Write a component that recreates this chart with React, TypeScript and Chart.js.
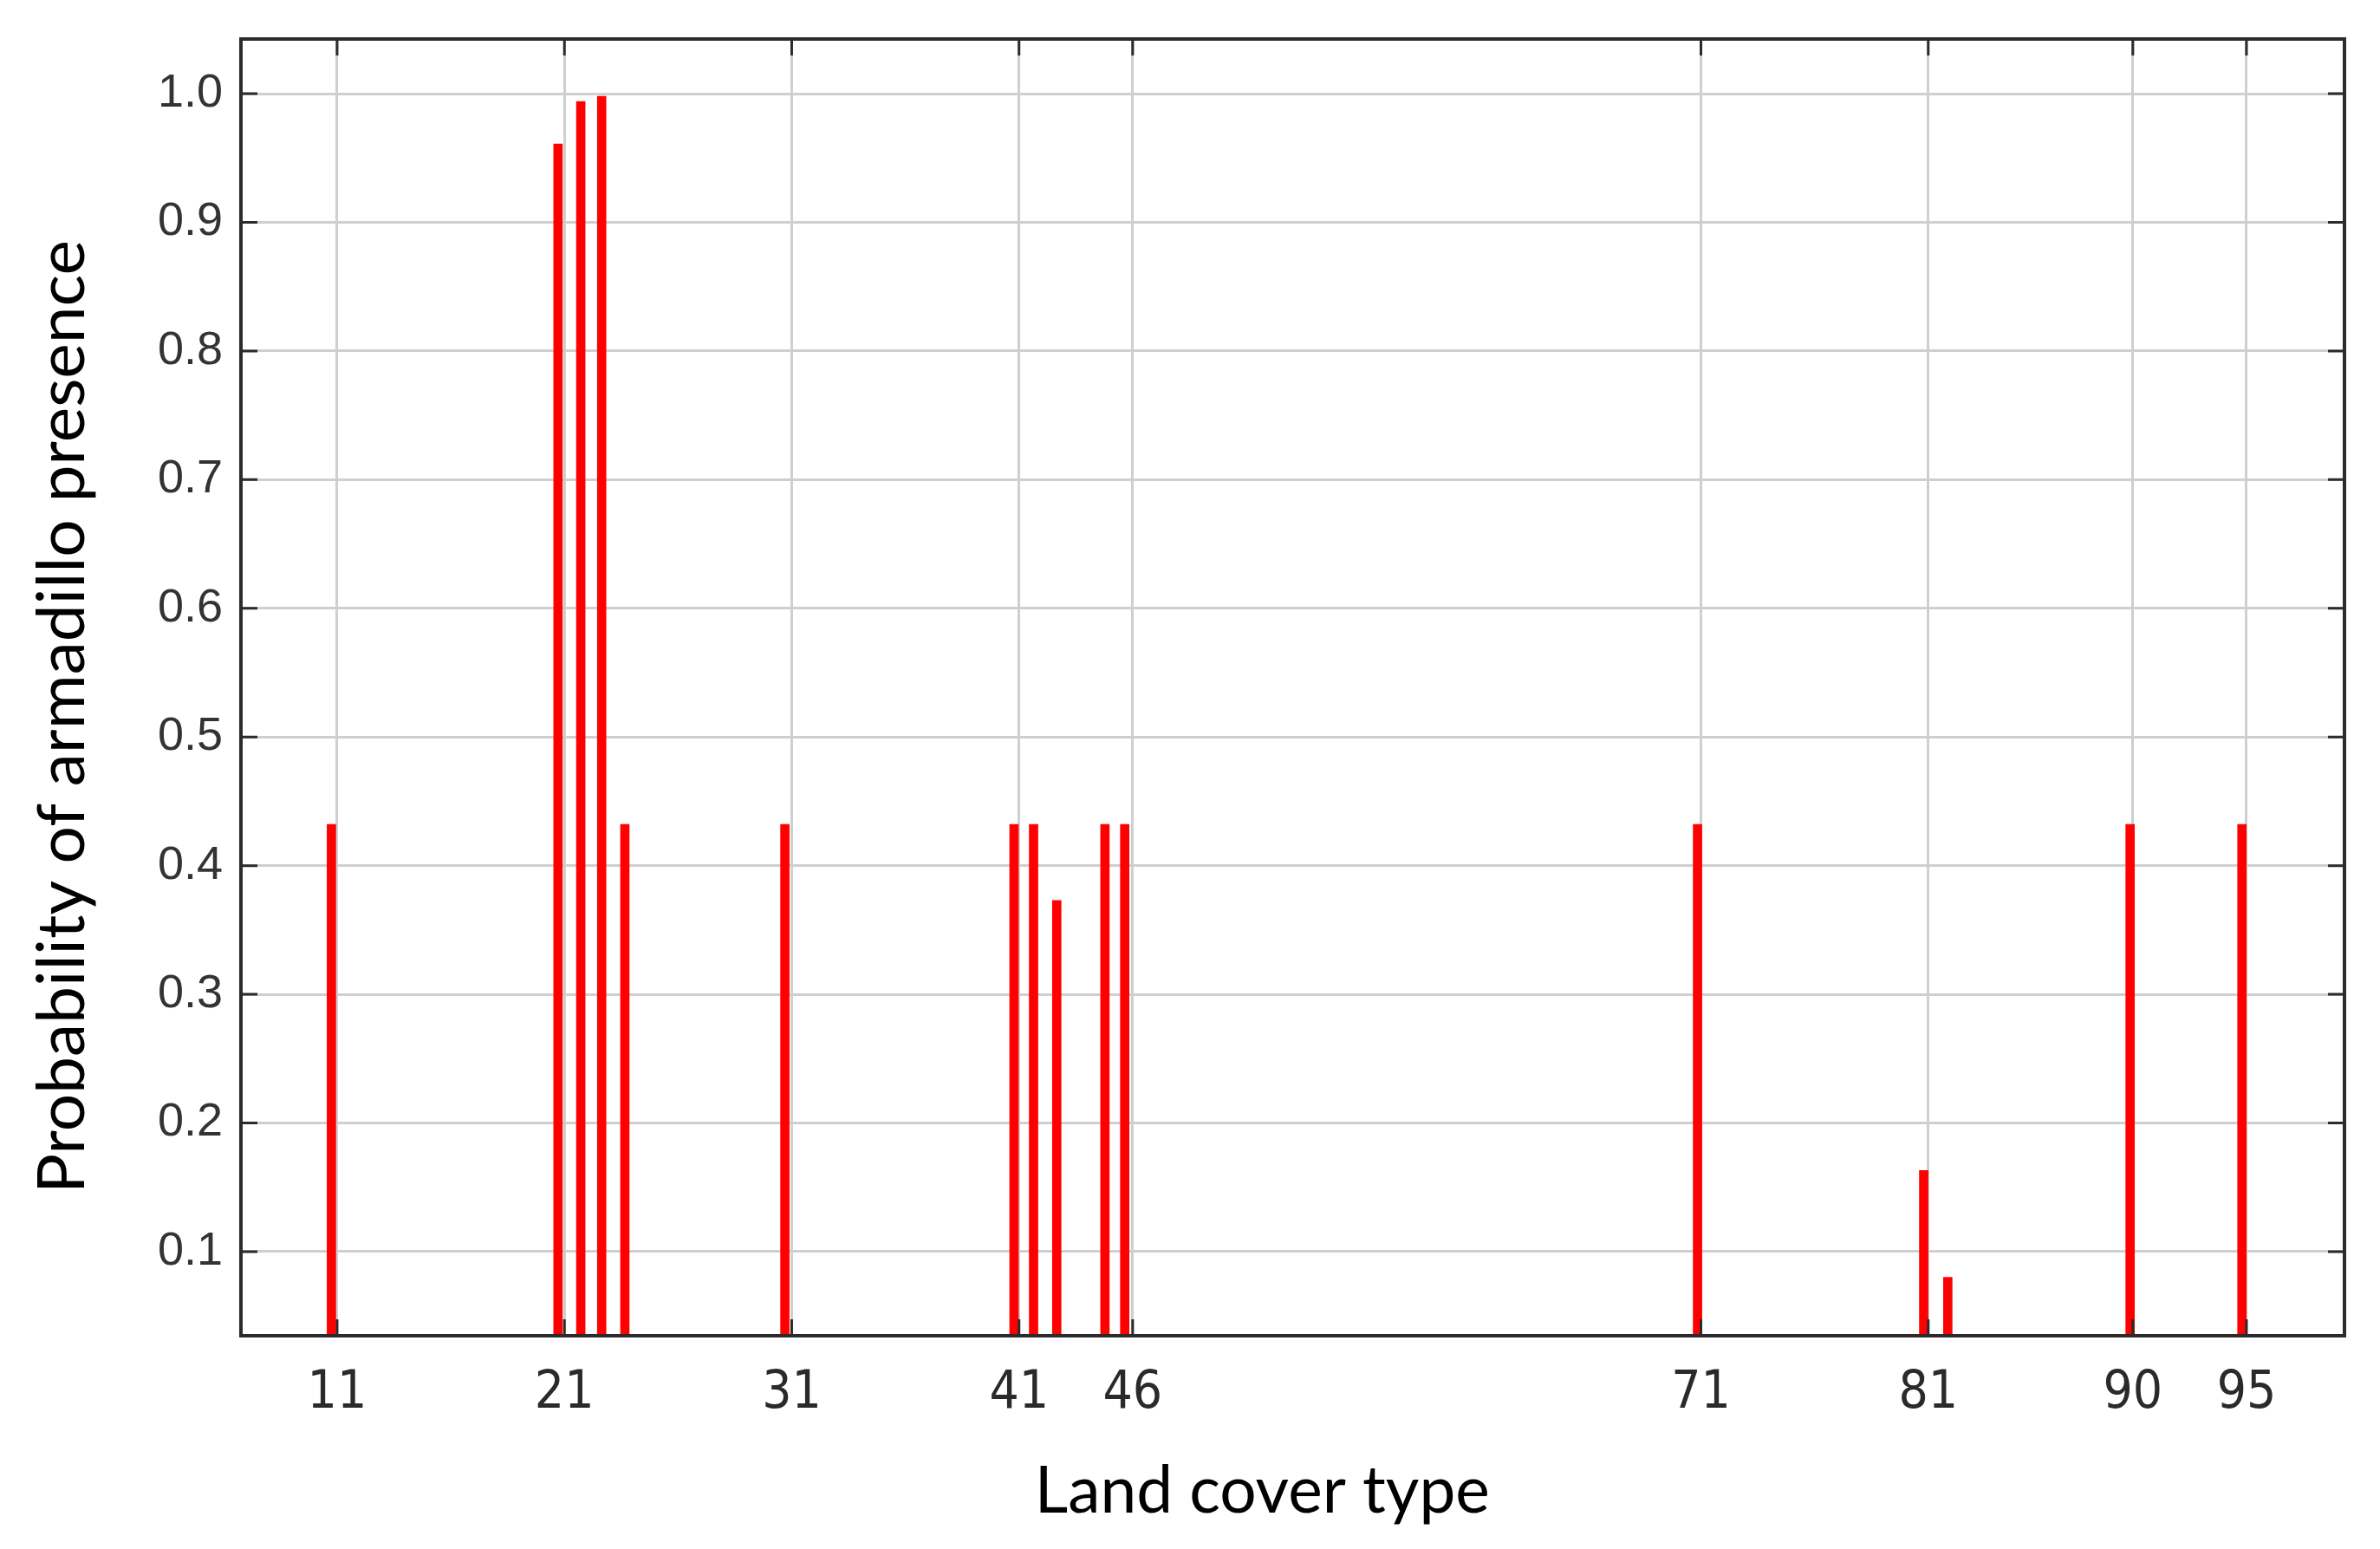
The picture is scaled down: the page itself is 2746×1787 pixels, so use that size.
import React, { useEffect, useRef } from "react";
import { Chart, registerables } from "chart.js";

Chart.register(...registerables);

// ---- data ----
const landCoverX = [
  10.75, 20.72, 21.72, 22.64, 23.66, 30.7, 40.78, 41.64, 42.66, 44.78, 45.65,
  70.85, 80.8, 81.86, 89.88, 94.8,
];
const probability = [
  0.432, 0.961, 0.994, 0.998, 0.432, 0.432, 0.432, 0.432, 0.373, 0.432, 0.432,
  0.432, 0.163, 0.08, 0.432, 0.432,
];
const xTickValues = [11, 21, 31, 41, 46, 71, 81, 90, 95];
const yTickValues = [0.1, 0.2, 0.3, 0.4, 0.5, 0.6, 0.7, 0.8, 0.9, 1.0];
const xTitle = "Land cover type";
const yTitle = "Probability of armadillo presence";

const X_MIN = 6.77;
const X_MAX = 99.31;
const Y_MIN = 0.0346;
const Y_MAX = 1.0425;

const W = 2746;
const H = 1787;

const framePlugin = {
  id: "frameAndTitles",
  afterDraw(chart: any) {
    const ctx: CanvasRenderingContext2D = chart.ctx;
    const { left, right, top, bottom } = chart.chartArea;
    const xs = chart.scales.x;
    const ys = chart.scales.y;
    ctx.save();
    // inward tick marks
    ctx.strokeStyle = "#2b2b2b";
    ctx.lineWidth = 3;
    const tl = 19;
    ctx.beginPath();
    for (const v of xTickValues) {
      const px = xs.getPixelForValue(v);
      ctx.moveTo(px, bottom);
      ctx.lineTo(px, bottom - tl);
      ctx.moveTo(px, top);
      ctx.lineTo(px, top + tl);
    }
    for (const v of yTickValues) {
      const py = ys.getPixelForValue(v);
      ctx.moveTo(left, py);
      ctx.lineTo(left + tl, py);
      ctx.moveTo(right, py);
      ctx.lineTo(right - tl, py);
    }
    ctx.stroke();
    // frame
    ctx.lineWidth = 4;
    ctx.strokeStyle = "#2b2b2b";
    ctx.strokeRect(left, top, right - left, bottom - top);

    // titles
    ctx.fillStyle = "#000";
    ctx.font = "76px Lato, 'Open Sans', sans-serif";
    ctx.textAlign = "center";
    ctx.textBaseline = "alphabetic";
    // x title
    ctx.save();
    const wx = ctx.measureText(xTitle).width;
    ctx.translate(left + (right - left) * 0.4855, bottom + 204);
    ctx.scale(525 / wx, 1);
    ctx.fillText(xTitle, 0, 0);
    ctx.restore();
    // y title
    ctx.save();
    const wy = ctx.measureText(yTitle).width;
    ctx.translate(97, 827);
    ctx.rotate(-Math.PI / 2);
    ctx.scale(1100 / wy, 1);
    ctx.fillText(yTitle, 0, 0);
    ctx.restore();

    ctx.restore();
  },
};

export default function App() {
  const ref = useRef<HTMLCanvasElement | null>(null);

  useEffect(() => {
    if (!ref.current) return;
    const chart = new Chart(ref.current, {
      type: "bar",
      data: {
        datasets: [
          {
            data: landCoverX.map((x, i) => ({ x, y: probability[i] })),
            backgroundColor: "#ff0000",
            borderWidth: 0,
            barThickness: 10,
          },
        ],
      },
      options: {
        responsive: false,
        animation: false,
        events: [],
        layout: { padding: { top: 45, right: 41, left: 0, bottom: 0 } },
        plugins: {
          legend: { display: false },
          tooltip: { enabled: false },
        },
        scales: {
          x: {
            type: "linear",
            min: X_MIN,
            max: X_MAX,
            offset: false,
            afterBuildTicks: (scale: any) => {
              scale.ticks = xTickValues.map((v) => ({ value: v }));
            },
            afterFit: (scale: any) => {
              scale.height = 246;
              scale.paddingLeft = 0;
              scale.paddingRight = 0;
            },
            grid: {
              color: "#cfcfcf",
              lineWidth: 3,
              drawTicks: false,
              offset: false,
            },
            border: { display: false },
            ticks: {
              autoSkip: false,
              maxRotation: 0,
              padding: 31,
              color: "#2a2a2a",
              font: {
                family: "'Liberation Sans Narrow', 'DejaVu Sans Condensed', 'Liberation Sans', sans-serif",
                size: 60,
              },
              callback: (v: any) => String(v),
            },
          },
          y: {
            type: "linear",
            min: Y_MIN,
            max: Y_MAX,
            afterBuildTicks: (scale: any) => {
              scale.ticks = yTickValues.map((v) => ({ value: v }));
            },
            afterFit: (scale: any) => {
              scale.width = 278;
              scale.paddingTop = 0;
              scale.paddingBottom = 0;
            },
            grid: {
              color: "#cfcfcf",
              lineWidth: 3,
              drawTicks: false,
            },
            border: { display: false },
            ticks: {
              autoSkip: false,
              padding: 21,
              color: "#333333",
              font: {
                family: "'Liberation Sans', Arial, sans-serif",
                size: 54,
              },
              callback: (v: any) => Number(v).toFixed(1),
            },
          },
        },
      },
      plugins: [framePlugin],
    });
    return () => chart.destroy();
  }, []);

  return (
    <div
      style={{
        position: "fixed",
        left: 0,
        top: 0,
        width: W,
        height: H,
        background: "#fff",
      }}
    >
      <canvas ref={ref} width={W} height={H} style={{ display: "block" }} />
    </div>
  );
}
